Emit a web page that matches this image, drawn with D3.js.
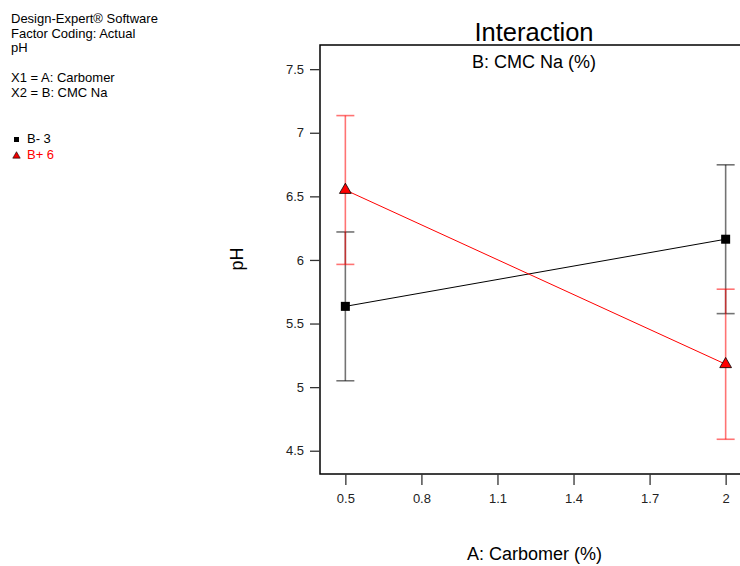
<!DOCTYPE html>
<html><head><meta charset="utf-8">
<script src="https://cdn.jsdelivr.net/npm/d3@7"></script>
<style>body{margin:0;background:#fff;}svg{font-family:"Liberation Sans",Arial,sans-serif;}</style>
</head><body>
<svg id="c" width="740" height="566"></svg>
<script>
const xTicks = [0.5, 0.8, 1.1, 1.4, 1.7, 2];
const yTicks = [4.5, 5, 5.5, 6, 6.5, 7, 7.5];
const levelsA = [0.5, 2];
const seriesNames = ["B- 3", "B+ 6"];
const meanLow = [5.635, 6.163];
const errLow = [0.585, 0.585];
const meanHigh = [6.55, 5.18];
const errHigh = [0.585, 0.59];
const infoLines = ["Design-Expert® Software", "Factor Coding: Actual", "pH", "", "X1 = A: Carbomer", "X2 = B: CMC Na"];

const svg = d3.select("#c");
const L = 320, R = 751, T = 45, B = 474;
const x = d3.scaleLinear().domain([0.4, 2.1]).range([L, R]);
const y = d3.scaleLinear().domain([4.317, 7.69]).range([B, T]);

// info text
svg.append("g").selectAll("text").data(infoLines).join("text")
  .attr("x", 11).attr("y", (d, i) => 23 + i * 14.7)
  .attr("font-size", 13).attr("fill", "#000").text(d => d);

// legend
const lg = svg.append("g");
lg.append("rect").attr("x", 14).attr("y", 137).attr("width", 5).attr("height", 5).attr("fill", "#000");
lg.append("text").attr("x", 27).attr("y", 142.5).attr("font-size", 13).attr("fill", "#000").text(seriesNames[0]);
lg.append("path").attr("d", d3.symbol(d3.symbolTriangle, 24)()).attr("transform", "translate(16.5,156)")
  .attr("fill", "#e00").attr("stroke", "#000").attr("stroke-width", 0.6);
lg.append("text").attr("x", 27).attr("y", 158.5).attr("font-size", 13).attr("fill", "#f00").text(seriesNames[1]);

// frame
svg.append("rect").attr("x", L).attr("y", T).attr("width", R - L).attr("height", B - T)
  .attr("fill", "none").attr("stroke", "#000").attr("stroke-width", 1.5);

// axes
const yAxis = svg.append("g").attr("transform", `translate(${L},0)`)
  .call(d3.axisLeft(y).tickValues(yTicks).tickSize(10).tickPadding(6).tickFormat(d3.format("")));
yAxis.select(".domain").remove();
yAxis.selectAll("text").attr("font-size", 13).attr("font-family", "Liberation Sans, Arial, sans-serif").attr("fill", "#222");
yAxis.selectAll("line").attr("stroke", "#333").attr("stroke-width", 1.3);

const xAxis = svg.append("g").attr("transform", `translate(0,${B})`)
  .call(d3.axisBottom(x).tickValues(xTicks).tickSize(11).tickPadding(9).tickFormat(d3.format("")));
xAxis.select(".domain").remove();
xAxis.selectAll("text").attr("font-size", 13).attr("font-family", "Liberation Sans, Arial, sans-serif").attr("fill", "#222");
xAxis.selectAll("line").attr("stroke", "#333").attr("stroke-width", 1.3);

// titles
svg.append("text").attr("x", 534).attr("y", 41).attr("text-anchor", "middle").attr("font-size", 25.5).text("Interaction");
svg.append("text").attr("x", 534).attr("y", 68).attr("text-anchor", "middle").attr("font-size", 18).text("B: CMC Na (%)");
svg.append("text").attr("x", 534.5).attr("y", 560).attr("text-anchor", "middle").attr("font-size", 18).text("A: Carbomer (%)");
svg.append("text").attr("transform", "translate(243,259) rotate(-90)").attr("text-anchor", "middle").attr("font-size", 18).text("pH");

function errBars(means, errs, color) {
  const g = svg.append("g").attr("stroke", color).attr("stroke-width", 1.6).attr("stroke-opacity", 0.55);
  levelsA.forEach((a, i) => {
    const cx = x(a);
    g.append("line").attr("x1", cx).attr("x2", cx).attr("y1", y(means[i] + errs[i])).attr("y2", y(means[i] - errs[i]));
    [means[i] + errs[i], means[i] - errs[i]].forEach(v => {
      g.append("line").attr("x1", cx - 9).attr("x2", cx + 9).attr("y1", y(v)).attr("y2", y(v));
    });
  });
}
errBars(meanLow, errLow, "#000");
errBars(meanHigh, errHigh, "#f00");

const line = d3.line().x((d, i) => x(levelsA[i])).y(d => y(d));
svg.append("path").datum(meanLow).attr("d", line).attr("fill", "none").attr("stroke", "#000").attr("stroke-width", 1);
svg.append("path").datum(meanHigh).attr("d", line).attr("fill", "none").attr("stroke", "#f00").attr("stroke-width", 1);

svg.append("g").selectAll("rect").data(meanLow).join("rect")
  .attr("x", (d, i) => x(levelsA[i]) - 4.5).attr("y", d => y(d) - 4.5)
  .attr("width", 9).attr("height", 9).attr("fill", "#000");
svg.append("g").selectAll("path").data(meanHigh).join("path")
  .attr("d", d3.symbol(d3.symbolTriangle, 60)())
  .attr("transform", (d, i) => `translate(${x(levelsA[i])},${y(d)})`)
  .attr("fill", "#f00").attr("stroke", "#000").attr("stroke-width", 0.8);
</script>
</body></html>
